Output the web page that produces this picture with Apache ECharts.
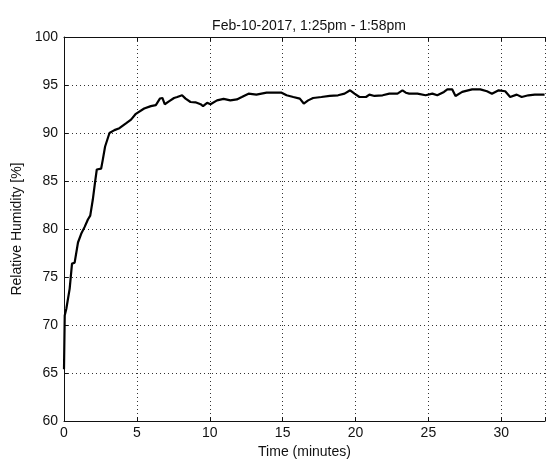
<!DOCTYPE html>
<html>
<head>
<meta charset="utf-8">
<script src="https://cdn.jsdelivr.net/npm/echarts@6/dist/echarts.min.js"></script>
<style>
  html, body { margin: 0; padding: 0; background: #fff; }
  #chart { width: 548px; height: 464px; }
</style>
</head>
<body>
<div id="chart"></div>
<script>
// Humidity log, Feb-10-2017, 1:25pm - 1:58pm
const timeMin = [
  0, 0.05, 0.16, 0.39, 0.55, 0.73, 0.96, 1.18, 1.41, 1.64, 1.8, 1.98, 2.14, 2.25,
  2.55, 2.66, 2.82, 3.12, 3.46, 3.8, 4.25, 4.6, 4.93, 5.5, 5.96, 6.3, 6.59, 6.75,
  6.91, 7.2, 7.55, 7.77, 8.1, 8.34, 8.68, 9.02, 9.37, 9.54, 9.82, 10.05, 10.5, 10.95,
  11.41, 11.86, 12.2, 12.66, 13.2, 13.9, 14.36, 14.93, 15.27, 15.73, 16.18, 16.45,
  16.75, 17.09, 17.66, 18.23, 18.8, 19.25, 19.63, 19.93, 20.27, 20.72, 20.95, 21.3,
  21.86, 22.32, 22.88, 23.22, 23.45, 23.68, 24.25, 24.81, 25.27, 25.61, 26.07, 26.3,
  26.63, 26.86, 27.32, 28.0, 28.56, 29.02, 29.36, 29.82, 30.27, 30.61, 31.06, 31.4,
  31.86, 32.3, 32.97
];
const humidity = [
  65.4, 71.0, 71.7, 73.8, 76.4, 76.5, 78.6, 79.5, 80.2, 81.0, 81.4, 83.1, 85.0, 86.2,
  86.3, 87.2, 88.6, 90.0, 90.3, 90.5, 91.0, 91.4, 92.0, 92.55, 92.8, 92.9, 93.6, 93.65,
  93.0, 93.3, 93.65, 93.75, 93.93, 93.58, 93.23, 93.2, 93.0, 92.8, 93.15, 93.0, 93.4, 93.55,
  93.4, 93.5, 93.75, 94.1, 94.0, 94.2, 94.2, 94.2, 93.93, 93.75, 93.58, 93.07,
  93.4, 93.65, 93.75, 93.86, 93.93, 94.1, 94.45, 94.1, 93.75, 93.75, 94.0, 93.86,
  93.93, 94.1, 94.1, 94.45, 94.2, 94.1, 94.1, 93.93, 94.1, 93.93, 94.28, 94.55,
  94.55, 93.86, 94.28, 94.55, 94.55, 94.35, 94.1, 94.45, 94.35, 93.75, 94.0, 93.75,
  93.93, 94.0, 94.0
];
const xTicks = [0, 5, 10, 15, 20, 25, 30];
const yTicks = [60, 65, 70, 75, 80, 85, 90, 95, 100];

const FONT = '"Liberation Sans", Arial, sans-serif';
const ink = '#111';
const gridDots = { show: true, lineStyle: { color: '#333', type: [1, 3], width: 1 } };

const chart = echarts.init(document.getElementById('chart'), null, { renderer: 'canvas' });

chart.setOption({
  animation: false,
  backgroundColor: '#fff',
  title: {
    text: 'Feb-10-2017, 1:25pm - 1:58pm',
    left: 304, top: 14, textAlign: 'center',
    textStyle: { fontFamily: FONT, fontSize: 14, fontWeight: 'normal', color: ink }
  },
  grid: { left: 64, right: -2, top: 37, bottom: 41, containLabel: false },
  xAxis: [{
    type: 'value', min: 0, max: 33, interval: 5,
    name: 'Time (minutes)', nameLocation: 'middle', nameGap: 21,
    nameTextStyle: { fontFamily: FONT, fontSize: 14, color: ink },
    axisLine: { show: true, lineStyle: { color: ink, width: 1 } },
    axisTick: { show: true, inside: true, length: 4, lineStyle: { color: ink } },
    axisLabel: {
      fontFamily: FONT, fontSize: 14, color: ink, margin: 5,
      formatter: v => (xTicks.includes(v) ? String(v) : '')
    },
    splitLine: gridDots
  }, {
    type: 'value', position: 'top', min: 0, max: 33, interval: 5,
    axisLine: { show: true, lineStyle: { color: ink, width: 1 } },
    axisTick: { show: true, inside: true, length: 4, lineStyle: { color: ink } },
    axisLabel: { show: false },
    splitLine: { show: false }
  }],
  yAxis: {
    type: 'value', min: 60, max: 100, interval: 5,
    name: 'Relative Humidity [%]', nameLocation: 'middle', nameGap: 39,
    nameTextStyle: { fontFamily: FONT, fontSize: 14, color: ink },
    axisLine: { show: true, lineStyle: { color: ink, width: 1 } },
    axisTick: { show: true, inside: true, length: 4, lineStyle: { color: ink } },
    axisLabel: {
      fontFamily: FONT, fontSize: 14, color: ink, margin: 6,
      formatter: v => (yTicks.includes(v) ? String(v) : '')
    },
    splitLine: gridDots
  },
  series: [{
    type: 'line',
    xAxisIndex: 0,
    data: timeMin.map((t, i) => [t, humidity[i]]),
    showSymbol: false,
    smooth: false,
    lineStyle: { color: '#000', width: 2.2 },
    clip: true
  }]
});
</script>
</body>
</html>
